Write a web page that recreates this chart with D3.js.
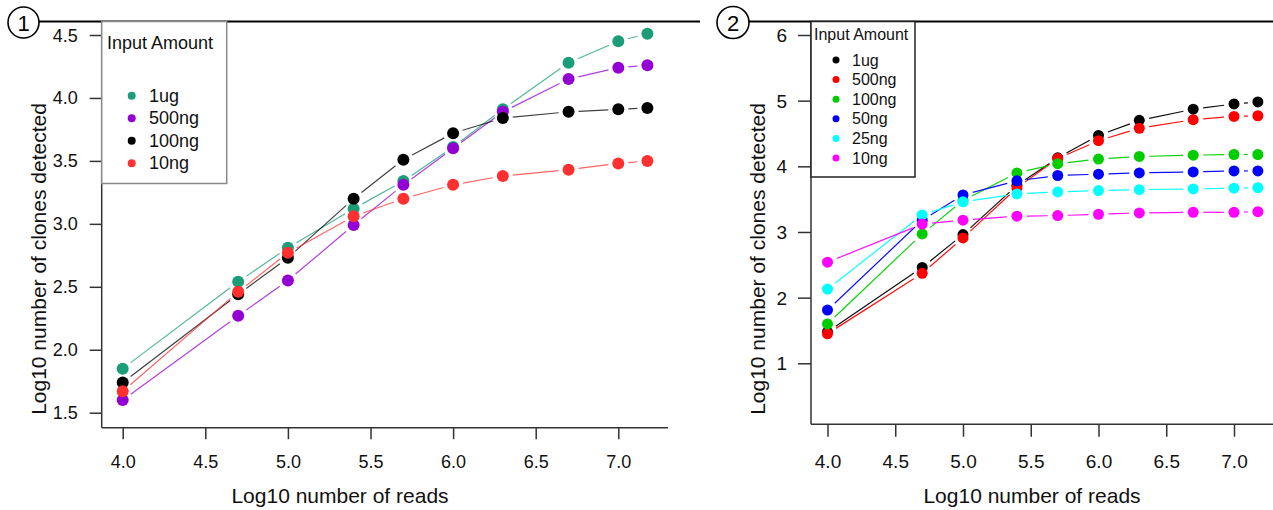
<!DOCTYPE html>
<html>
<head>
<meta charset="utf-8">
<script src="https://cdn.jsdelivr.net/npm/d3@7"></script>
<style>
  html, body { margin: 0; padding: 0; background: #fff; }
  svg { display: block; font-family: "Liberation Sans", Arial, sans-serif; }
</style>
</head>
<body>
<svg id="chart" width="1273" height="510"></svg>
<script>
// Log10 of read depth: 10k, 50k, 100k, 250k, 500k, 1M, 2M, 5M, 10M, 15M
const logReads = [4, 4.69897, 5, 5.39794, 5.69897, 6, 6.30103, 6.69897, 7, 7.17609];
const xTicks = [4.0, 4.5, 5.0, 5.5, 6.0, 6.5, 7.0];

// Panel 1: input amounts
const inputs1 = ["1ug", "500ng", "100ng", "10ng"];
const colors1 = ["#1b9e77", "#9400d3", "#000000", "#ff3030"];
const clones1_1ug   = [1.85, 2.54, 2.81, 3.12, 3.34, 3.61, 3.91, 4.28, 4.45, 4.51];
const clones1_500ng = [1.60, 2.27, 2.55, 2.99, 3.31, 3.60, 3.89, 4.15, 4.24, 4.26];
const clones1_100ng = [1.74, 2.44, 2.73, 3.20, 3.51, 3.72, 3.84, 3.89, 3.91, 3.92];
const clones1_10ng  = [1.67, 2.46, 2.77, 3.06, 3.20, 3.31, 3.38, 3.43, 3.48, 3.50];
const yTicks1 = [1.5, 2.0, 2.5, 3.0, 3.5, 4.0, 4.5];

// Panel 2: input amounts
const inputs2 = ["1ug", "500ng", "100ng", "50ng", "25ng", "10ng"];
const colors2 = ["#000000", "#ff0000", "#00cd00", "#0000ff", "#00ffff", "#ff00ff"];
const clones2_1ug   = [1.48, 2.46, 2.96, 3.71, 4.13, 4.47, 4.70, 4.87, 4.95, 4.98];
const clones2_500ng = [1.45, 2.37, 2.91, 3.67, 4.12, 4.39, 4.58, 4.71, 4.76, 4.77];
const clones2_100ng = [1.60, 2.97, 3.48, 3.90, 4.04, 4.11, 4.15, 4.17, 4.18, 4.18];
const clones2_50ng  = [1.81, 3.18, 3.565, 3.78, 3.86, 3.88, 3.90, 3.915, 3.93, 3.93];
const clones2_25ng  = [2.13, 3.26, 3.46, 3.58, 3.61, 3.63, 3.645, 3.656, 3.667, 3.675];
const clones2_10ng  = [2.54, 3.12, 3.18, 3.24, 3.25, 3.27, 3.29, 3.30, 3.30, 3.31];
const yTicks2 = [1, 2, 3, 4, 5, 6];

const xTitle = "Log10 number of reads";
const yTitle = "Log10 number of clones detected";
const legendTitle = "Input Amount";

const svg = d3.select("#chart");

// Lines broken around each point, like base-graphics type = "b"
function drawBrokenLines(g, xs, ys, x, y, color, gap, width, opacity) {
  for (let i = 0; i < xs.length - 1; i++) {
    const x0 = x(xs[i]), y0 = y(ys[i]), x1 = x(xs[i + 1]), y1 = y(ys[i + 1]);
    const dx = x1 - x0, dy = y1 - y0, len = Math.hypot(dx, dy);
    if (len <= 2 * gap) continue;
    const ux = dx / len, uy = dy / len;
    g.append("line")
      .attr("x1", x0 + ux * gap).attr("y1", y0 + uy * gap)
      .attr("x2", x1 - ux * gap).attr("y2", y1 - uy * gap)
      .attr("stroke", color).attr("stroke-width", width)
      .attr("stroke-opacity", opacity);
  }
}

function panel(cfg) {
  const g = svg.append("g");
  const x = d3.scaleLinear().domain([4, 7]).range(cfg.xRange);
  const y = d3.scaleLinear().domain(cfg.yDomain).range(cfg.yRange);

  // series
  cfg.series.forEach((vals, i) => {
    const sg = g.append("g");
    drawBrokenLines(sg, logReads, vals, x, y, cfg.colors[i], cfg.gap, cfg.lineWidth, cfg.lineOpacity);
    sg.selectAll("circle").data(vals).join("circle")
      .attr("cx", (d, j) => x(logReads[j]))
      .attr("cy", d => y(d))
      .attr("r", cfg.pointR)
      .attr("fill", cfg.colors[i]);
  });

  // axes frame: left, bottom
  g.append("line").attr("x1", cfg.box.left).attr("x2", cfg.box.left)
    .attr("y1", cfg.box.top).attr("y2", cfg.box.bottom)
    .attr("stroke", "#333").attr("stroke-width", 1.5);
  g.append("line").attr("x1", cfg.box.left).attr("x2", cfg.box.right)
    .attr("y1", cfg.box.bottom).attr("y2", cfg.box.bottom)
    .attr("stroke", "#333").attr("stroke-width", 1.5);

  // x axis
  const xa = g.append("g").attr("transform", `translate(0,${cfg.box.bottom})`)
    .call(d3.axisBottom(x).tickValues(xTicks).tickFormat(d3.format(".1f"))
      .tickSize(cfg.xTickLen).tickSizeOuter(0));
  xa.select(".domain").remove();
  xa.selectAll(".tick line").attr("stroke", "#333").attr("stroke-width", 1.5);
  xa.selectAll(".tick text").attr("dy", null).attr("y", cfg.xLabelY - cfg.box.bottom)
    .attr("dominant-baseline", "central")
    .attr("font-size", cfg.tickFont).attr("fill", "#111").attr("font-family", null);

  // y axis
  const ya = g.append("g").attr("transform", `translate(${cfg.box.left},0)`)
    .call(d3.axisLeft(y).tickValues(cfg.yTicks).tickFormat(cfg.yFormat)
      .tickSize(cfg.yTickLen).tickPadding(cfg.yPad).tickSizeOuter(0));
  ya.select(".domain").remove();
  ya.selectAll(".tick line").attr("stroke", "#333").attr("stroke-width", 1.5);
  ya.selectAll(".tick text").attr("dy", null).attr("dominant-baseline", "central")
    .attr("font-size", cfg.tickFont).attr("fill", "#111").attr("font-family", null);

  // titles
  g.append("text").attr("x", cfg.xTitlePos[0]).attr("y", cfg.xTitlePos[1])
    .attr("text-anchor", "middle").attr("dominant-baseline", "central")
    .attr("font-size", 21).attr("fill", "#111").text(xTitle);
  g.append("text")
    .attr("transform", `translate(${cfg.yTitlePos[0]},${cfg.yTitlePos[1]}) rotate(-90)`)
    .attr("text-anchor", "middle").attr("dominant-baseline", "central")
    .attr("font-size", 21).attr("fill", "#111").text(yTitle);

  // top rule with panel number
  g.append("line").attr("x1", cfg.badge[0] + cfg.badgeR).attr("x2", cfg.ruleEnd)
    .attr("y1", cfg.box.top).attr("y2", cfg.box.top)
    .attr("stroke", "#000").attr("stroke-width", 2);
  g.append("circle").attr("cx", cfg.badge[0]).attr("cy", cfg.badge[1]).attr("r", cfg.badgeR)
    .attr("fill", "#fff").attr("stroke", "#000").attr("stroke-width", 1.6);
  g.append("text").attr("x", cfg.badge[0]).attr("y", cfg.badge[1] + 1)
    .attr("text-anchor", "middle").attr("dominant-baseline", "central")
    .attr("font-size", 22).attr("fill", "#000").text(cfg.label);

  // legend
  const L = cfg.legend;
  const lg = g.append("g");
  lg.append("rect").attr("x", L.x).attr("y", L.y).attr("width", L.w).attr("height", L.h)
    .attr("fill", "#fff").attr("stroke", L.stroke).attr("stroke-width", 1.5);
  lg.append("text").attr("x", L.titleX).attr("y", L.titleY)
    .attr("font-size", L.titleFont).attr("fill", "#111").text(legendTitle);
  cfg.names.forEach((name, i) => {
    const yy = L.itemY0 + i * L.itemStep;
    lg.append("circle").attr("cx", L.markX).attr("cy", yy).attr("r", L.markR)
      .attr("fill", cfg.colors[i]);
    lg.append("text").attr("x", L.textX).attr("y", yy)
      .attr("dominant-baseline", "central")
      .attr("font-size", L.itemFont).attr("fill", "#111").text(name);
  });
}

panel({
  label: "1",
  xRange: [122.7, 618.3],
  yDomain: [1.5, 4.5], yRange: [412.7, 35],
  box: { left: 101.7, right: 668, top: 21.5, bottom: 427.7 },
  series: [clones1_1ug, clones1_500ng, clones1_100ng, clones1_10ng],
  names: inputs1, colors: colors1,
  yTicks: yTicks1, yFormat: d3.format(".1f"),
  pointR: 6, gap: 10, lineWidth: 1.2, lineOpacity: 0.75,
  tickFont: 18, xTickLen: 11.5, xLabelY: 462, yTickLen: 12, yPad: 12,
  xTitlePos: [340, 495], yTitlePos: [38, 259],
  badge: [23.5, 22.5], badgeR: 15.5, ruleEnd: 700,
  legend: { x: 101.7, y: 21.5, w: 125, h: 162, stroke: "#8a8a8a",
            titleX: 107, titleY: 49, titleFont: 18,
            itemY0: 95.7, itemStep: 22.5, markX: 131.7, markR: 4,
            textX: 149, itemFont: 18 }
});

panel({
  label: "2",
  xRange: [827.5, 1234],
  yDomain: [1, 6], yRange: [363.3, 35],
  box: { left: 811, right: 1275, top: 21.5, bottom: 424.3 },
  series: [clones2_1ug, clones2_500ng, clones2_100ng, clones2_50ng, clones2_25ng, clones2_10ng],
  names: inputs2, colors: colors2,
  yTicks: yTicks2, yFormat: d3.format("d"),
  pointR: 5.5, gap: 10, lineWidth: 1.2, lineOpacity: 0.95,
  tickFont: 19, xTickLen: 12.4, xLabelY: 461.7, yTickLen: 13, yPad: 11,
  xTitlePos: [1032, 495], yTitlePos: [757, 259],
  badge: [733, 22.5], badgeR: 16, ruleEnd: 1273,
  legend: { x: 811, y: 21.5, w: 104, h: 155.5, stroke: "#222",
            titleX: 814, titleY: 40, titleFont: 16,
            itemY0: 60, itemStep: 19.6, markX: 836, markR: 3.5,
            textX: 852, itemFont: 16 }
});
</script>
</body>
</html>
